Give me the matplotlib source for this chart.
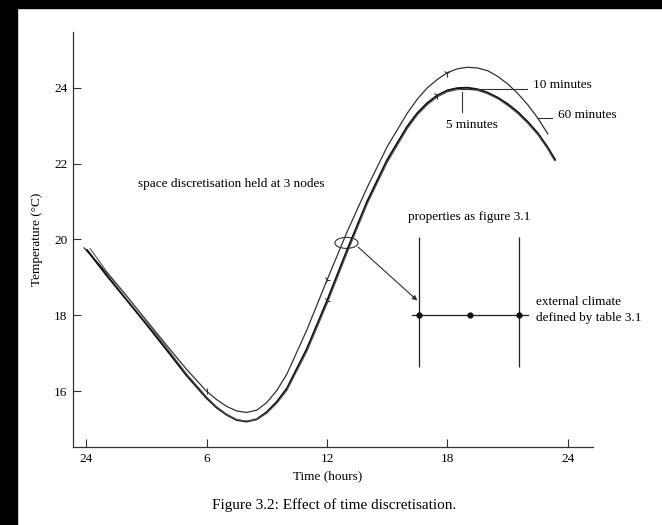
import numpy as np
import matplotlib
matplotlib.use("Agg")
import matplotlib.pyplot as plt
from matplotlib.patches import Ellipse, Rectangle

plt.rcParams['font.family'] = ['Liberation Serif', 'DejaVu Serif']

# time axis labels (hours of the day, run starts at midnight)
tick_pos = [0, 6, 12, 18, 24]
tick_lab = ['24', '6', '12', '18', '24']
ytick_pos = [16, 18, 20, 22, 24]

# outer curve (highest peak)
hours_a = [-0.1, 1, 2, 3, 4, 5, 6, 6.5, 7, 7.5, 8, 8.5, 9, 9.5, 10, 11, 12, 13, 14, 15,
           16, 16.5, 17, 17.5, 18, 18.5, 19, 19.5, 20, 20.5, 21, 21.5, 22, 22.5, 23.0]
temp_a = [19.78, 19.14, 18.52, 17.87, 17.22, 16.58, 16.0, 15.78, 15.6, 15.48, 15.44, 15.5, 15.7, 16.02,
          16.45, 17.62, 18.93, 20.2, 21.37, 22.45, 23.33, 23.7, 24.0, 24.22, 24.4, 24.5, 24.54,
          24.52, 24.45, 24.3, 24.1, 23.85, 23.55, 23.2, 22.78]

# inner pair of curves
hours_b = [0.05, 1, 2, 3, 4, 5, 6, 6.5, 7, 7.5, 8, 8.5, 9, 9.5, 10, 11, 12, 13, 14, 15,
           16, 16.5, 17, 17.5, 18, 18.5, 19, 19.5, 20, 20.5, 21, 21.5, 22, 22.5, 23, 23.36]
temp_b = [19.72, 19.07, 18.42, 17.77, 17.1, 16.42, 15.82, 15.57, 15.38, 15.24, 15.2, 15.26, 15.45,
          15.72, 16.07, 17.12, 18.38, 19.72, 21.0, 22.1, 22.98, 23.33, 23.6, 23.8, 23.93, 23.99,
          24.0, 23.96, 23.87, 23.74, 23.57, 23.36, 23.1, 22.8, 22.42, 22.1]

hours_c = [0.2, 1, 2, 3, 4, 5, 6, 6.5, 7, 7.5, 8, 8.5, 9, 9.5, 10, 11, 12, 13, 14, 15,
           16, 16.5, 17, 17.5, 18, 18.5, 19, 19.5, 20, 20.5, 21, 21.5, 22, 22.5, 23, 23.33]
temp_c = [19.76, 19.17, 18.53, 17.85, 17.16, 16.46, 15.85, 15.59, 15.39, 15.25, 15.21, 15.25, 15.42,
          15.68, 16.02, 17.05, 18.3, 19.64, 20.93, 22.03, 22.92, 23.28, 23.55, 23.76, 23.89, 23.95,
          23.96, 23.93, 23.84, 23.71, 23.53, 23.32, 23.06, 22.76, 22.38, 22.08]

# nodes of the wall sketch
node_x = [16.58, 19.12, 21.56]

fig = plt.figure(figsize=(6.62, 5.25), dpi=100)
fig.patch.set_facecolor('white')
ax = fig.add_axes([0.1103, 0.1486, 0.7855, 0.7905])

ax.plot(hours_a, temp_a, color='#333333', lw=0.9)
ax.plot(hours_b, temp_b, color='#111111', lw=1.4)
ax.plot(hours_c, temp_c, color='#555555', lw=0.8)

# little direction marks on the curves
ax.plot(hours_a, temp_a, ls='none', marker='1', ms=6, mew=0.8, color='#333333',
        markevery=[hours_a.index(18)])
ax.plot(hours_b, temp_b, ls='none', marker='1', ms=6, mew=0.8, color='#333333',
        markevery=[hours_b.index(17.5)])
ax.plot(hours_a, temp_a, ls='none', marker='4', ms=5, mew=0.8, color='#333333',
        markevery=[hours_a.index(12)])
ax.plot(hours_b, temp_b, ls='none', marker='4', ms=5, mew=0.8, color='#333333',
        markevery=[hours_b.index(12)])
ax.plot(hours_a, temp_a, ls='none', marker='|', ms=4, mew=0.8, color='#333333',
        markevery=[hours_a.index(6)])

ax.set_xlim(-0.65, 25.25)
ax.set_ylim(14.53, 25.47)
ax.set_xticks(tick_pos)
ax.set_xticklabels(tick_lab)
ax.set_yticks(ytick_pos)
ax.tick_params(direction='in', length=6, width=0.8, labelsize=9.5, pad=4, color='#333333')
for s in ['top', 'right']:
    ax.spines[s].set_visible(False)
for s in ['left', 'bottom']:
    ax.spines[s].set_linewidth(0.9)
    ax.spines[s].set_color('#333333')
ax.set_xlabel('Time (hours)', fontsize=9.5)
ax.xaxis.set_label_coords(0.49, -0.056)
ax.set_ylabel('Temperature (°C)', fontsize=9.5, labelpad=8)

fs = 9.5
# labels for the curves
ax.text(2.6, 21.47, 'space discretisation held at 3 nodes', fontsize=fs, va='center')
ax.plot([18.71, 21.94], [23.97, 23.97], color='#333333', lw=0.8)
ax.text(22.26, 24.08, '10 minutes', fontsize=fs, va='center')
ax.plot([22.44, 23.19], [23.2, 23.2], color='#333333', lw=0.8)
ax.text(23.5, 23.29, '60 minutes', fontsize=fs, va='center')
ax.plot([18.71, 18.71], [23.89, 23.37], color='#333333', lw=0.8)
ax.text(19.2, 23.03, '5 minutes', fontsize=fs, ha='center', va='center')

# ellipse + arrow to the wall sketch
ax.add_patch(Ellipse((12.97, 19.91), 1.15, 0.29, fill=False, lw=0.8, color='#333333'))
ax.annotate('', xy=(16.5, 18.39), xytext=(13.55, 19.8),
            arrowprops=dict(arrowstyle='-|>', color='#333333', lw=0.8, mutation_scale=7,
                            shrinkA=0, shrinkB=0))
ax.text(16.05, 20.59, 'properties as figure 3.1', fontsize=fs, va='center')
ax.vlines([node_x[0], node_x[2]], 16.64, 20.06, color='#222222', lw=0.9)
ax.plot([16.22, 22.03], [18.0, 18.0], color='#222222', lw=0.9)
ax.plot(node_x, [18.0] * 3, ls='none', marker='o', ms=3.5, color='#111111')
ax.text(22.43, 18.14, 'external climate\ndefined by table 3.1', fontsize=fs, va='center',
        linespacing=1.45)

fig.text(0.5045, 0.038, 'Figure 3.2: Effect of time discretisation.', fontsize=11,
         ha='center', va='center')

# black scan border on top and left
fig.add_artist(Rectangle((0, 1 - 8 / 525), 1, 8 / 525, transform=fig.transFigure,
                         color='black', zorder=10))
fig.add_artist(Rectangle((0, 0), 17 / 662, 1, transform=fig.transFigure,
                         color='black', zorder=10))

fig.savefig('out.png', dpi=100, facecolor='white')
